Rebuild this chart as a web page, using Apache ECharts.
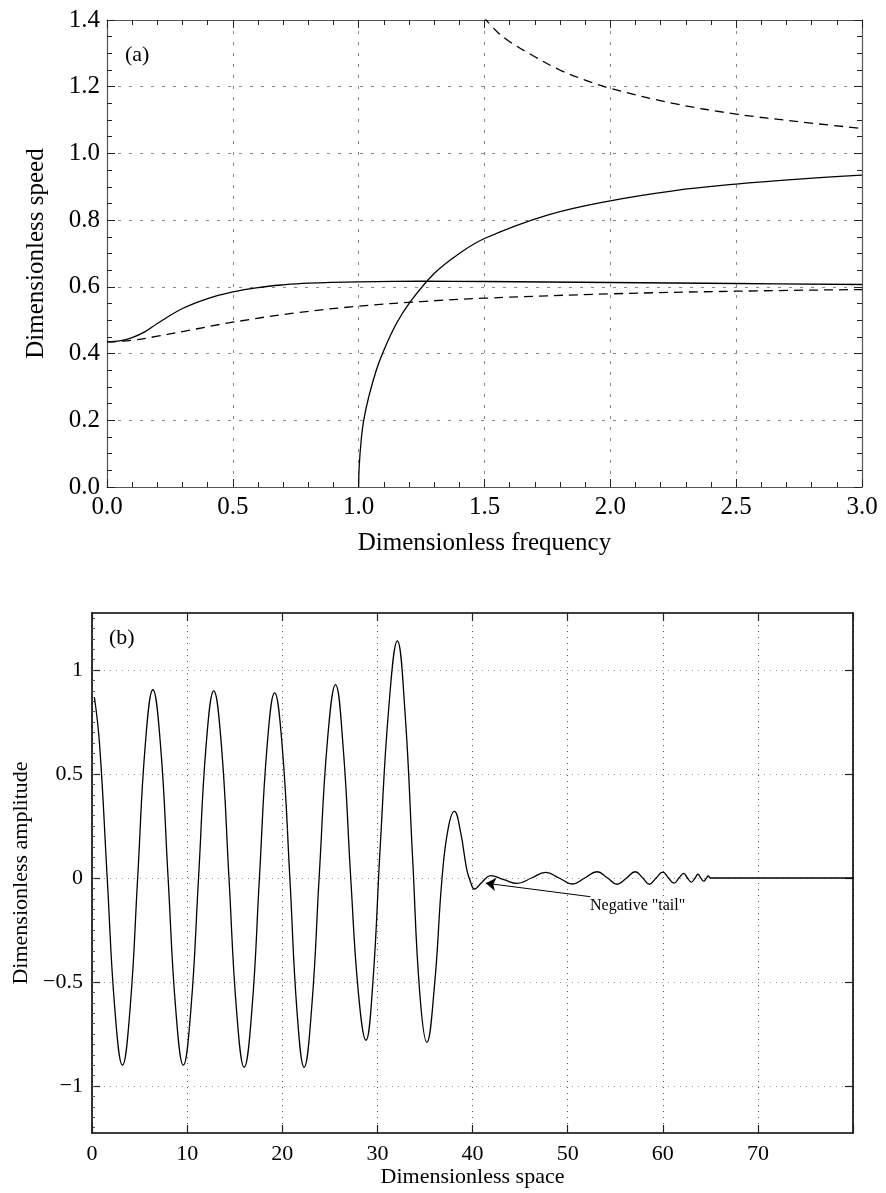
<!DOCTYPE html>
<html><head><meta charset="utf-8">
<script src="https://cdn.jsdelivr.net/npm/echarts@6/dist/echarts.min.js"></script>
<style>html,body{margin:0;padding:0;background:#fff}#c{width:886px;height:1193px}</style>
</head><body><div id="c"></div>
<script>
const FONT = '"Liberation Serif","Times New Roman","DejaVu Serif",serif';

// ---------- Panel (a) data ----------
const aSolidLowX  = [0, 0.05, 0.1, 0.15, 0.2, 0.3, 0.4, 0.5, 0.6, 0.7, 0.8, 1.0, 1.25, 1.5, 2.0, 2.5, 3.0];
const aSolidLowY  = [0.435, 0.438, 0.448, 0.465, 0.49, 0.535, 0.565, 0.585, 0.598, 0.606, 0.611, 0.615, 0.617, 0.616, 0.613, 0.610, 0.607];
const aDashLowX   = [0, 0.1, 0.2, 0.3, 0.5, 0.75, 1.0, 1.25, 1.5, 2.0, 2.5, 3.0];
const aDashLowY   = [0.435, 0.440, 0.452, 0.466, 0.494, 0.522, 0.542, 0.556, 0.566, 0.579, 0.587, 0.592];
const aSolidRiseX = [1.0, 1.002, 1.01, 1.02, 1.04, 1.07, 1.1, 1.15, 1.2, 1.3, 1.4, 1.5, 1.75, 2.0, 2.25, 2.5, 2.75, 3.0];
const aSolidRiseY = [0.0, 0.06, 0.14, 0.2, 0.27, 0.35, 0.41, 0.49, 0.55, 0.64, 0.70, 0.745, 0.815, 0.858, 0.888, 0.908, 0.923, 0.935];
const aDashHighX  = [1.495, 1.55, 1.6, 1.7, 1.8, 1.9, 2.0, 2.25, 2.5, 2.75, 3.0];
const aDashHighY  = [1.41, 1.365, 1.335, 1.29, 1.25, 1.22, 1.195, 1.15, 1.118, 1.095, 1.075];

// ---------- Panel (b) data ----------
const bX = [0.25, 0.8, 1.6, 2.4, 3.2, 4.0, 4.8, 5.6, 6.4, 7.2, 8.0, 8.8, 9.6, 10.4, 11.2, 12.0, 12.8, 13.6, 14.4,
  15.2, 16.0, 16.8, 17.6, 18.4, 19.2, 20.0, 20.8, 21.55, 22.3, 23.1, 23.9, 24.75, 25.6, 26.4, 27.2, 28.0, 28.8,
  29.5, 30.3, 31.2, 32.1, 32.9, 33.7, 34.45, 35.2, 36.0, 36.8, 37.45, 38.1, 38.75, 39.4, 39.8, 40.2, 41.0, 41.9,
  43.3, 44.7, 46.2, 47.7, 49.1, 50.5, 51.8, 53.1, 54.2, 55.2, 56.2, 57.1, 57.9, 58.6, 59.3, 60.0, 60.6, 61.2,
  61.7, 62.2, 62.6, 63.0, 63.4, 63.7, 64.0, 64.3, 64.6, 64.8, 65.0, 80];
const bY = [0.87, 0.64, 0.0, -0.63, -0.90, -0.63, 0.0, 0.64, 0.905, 0.64, 0.0, -0.63, -0.90, -0.63, 0.0, 0.64, 0.90, 0.64, 0.0,
  -0.64, -0.91, -0.64, 0.0, 0.63, 0.89, 0.63, 0.0, -0.64, -0.91, -0.62, 0.02, 0.66, 0.93, 0.63, 0.0, -0.55, -0.78,
  -0.52, 0.15, 0.82, 1.14, 0.80, 0.10, -0.55, -0.79, -0.52, 0.0, 0.24, 0.32, 0.22, 0.04, -0.02, -0.053, -0.02, 0.011,
  -0.008, -0.026, 0.0, 0.027, 0.0, -0.029, 0.0, 0.03, 0.0, -0.03, 0.0, 0.03, 0.0, -0.03, 0.0, 0.028, 0.0, -0.025,
  0.0, 0.022, 0.0, -0.02, 0.0, 0.018, 0.0, -0.015, 0.0, 0.01, 0.0, 0.0];

// tick labels
const aXTicks = [0, 0.5, 1.0, 1.5, 2.0, 2.5, 3.0];
const aYTicks = [0, 0.2, 0.4, 0.6, 0.8, 1.0, 1.2, 1.4];
const bXTicks = [0, 10, 20, 30, 40, 50, 60, 70];
const bYTicks = [-1, -0.5, 0, 0.5, 1];
const bYMinorTicks = [];
for (let k = -24; k <= 25; k++) bYMinorTicks.push(+(k * 0.05).toFixed(2));

const zip = (xs, ys) => xs.map((x, i) => [x, ys[i]]);

const axisText = { fontFamily: FONT, color: '#000' };
const tickA = { inside: true, length: 8, lineStyle: { color: '#222', width: 1 } };
const lineA = { show: true, onZero: false, lineStyle: { color: '#555', width: 1.2 } };
const lineB = { show: true, onZero: false, lineStyle: { color: '#000', width: 1.6 } };
const tickB = { inside: true, length: 8, lineStyle: { color: '#222', width: 1.2 } };
const minorA = n => ({ show: true, splitNumber: n, length: 5, lineStyle: { color: '#222', width: 1 } });

const option = {
  animation: false,
  backgroundColor: '#fff',
  grid: [
    { left: 107, top: 20, width: 755, height: 467 },
    { left: 92, top: 613, width: 761, height: 520 }
  ],
  xAxis: [
    { gridIndex: 0, type: 'value', min: 0, max: 3, interval: 0.5, position: 'bottom',
      axisLine: lineA, axisTick: tickA, minorTick: minorA(5),
      axisLabel: Object.assign({ fontSize: 25, margin: 8, formatter: v => v.toFixed(1) }, axisText),
      splitLine: { show: true, lineStyle: { type: [3, 8], color: '#888', width: 1 } },
      name: 'Dimensionless frequency', nameLocation: 'middle', nameGap: 44,
      nameTextStyle: Object.assign({ fontSize: 25 }, axisText) },
    { gridIndex: 0, type: 'value', min: 0, max: 3, interval: 0.5, position: 'top',
      axisLine: lineA, axisTick: tickA, minorTick: minorA(5),
      axisLabel: { show: false }, splitLine: { show: false } },
    { gridIndex: 1, type: 'value', min: 0, max: 80, interval: 10, position: 'bottom',
      axisLine: lineB, axisTick: tickB,
      axisLabel: Object.assign({ fontSize: 22, margin: 10, formatter: v => (bXTicks.indexOf(v) >= 0 ? String(v) : '') }, axisText),
      splitLine: { show: true, lineStyle: { type: [1, 5], color: '#555', width: 1 } },
      name: 'Dimensionless space', nameLocation: 'middle', nameGap: 28,
      nameTextStyle: Object.assign({ fontSize: 22 }, axisText) },
    { gridIndex: 1, type: 'value', min: 0, max: 80, interval: 10, position: 'top',
      axisLine: lineB, axisTick: tickB, axisLabel: { show: false }, splitLine: { show: false } }
  ],
  yAxis: [
    { gridIndex: 0, type: 'value', min: 0, max: 1.4, interval: 0.2, position: 'left',
      axisLine: lineA, axisTick: tickA, minorTick: minorA(4),
      axisLabel: Object.assign({ fontSize: 25, margin: 7, formatter: v => v.toFixed(1) }, axisText),
      splitLine: { show: true, lineStyle: { type: [3, 8], color: '#888', width: 1 } },
      name: 'Dimensionless speed', nameLocation: 'middle', nameGap: 58, nameRotate: 90,
      nameTextStyle: Object.assign({ fontSize: 25 }, axisText) },
    { gridIndex: 0, type: 'value', min: 0, max: 1.4, interval: 0.2, position: 'right',
      axisLine: lineA, axisTick: tickA, minorTick: minorA(4),
      axisLabel: { show: false }, splitLine: { show: false } },
    { gridIndex: 1, type: 'value', min: -1.226, max: 1.274, position: 'left',
      axisLine: lineB,
      axisTick: Object.assign({ customValues: bYTicks }, tickB),
      axisLabel: Object.assign({ fontSize: 22, margin: 9, customValues: bYTicks,
        formatter: v => (Math.abs(v) < 1e-9 ? '0' : String(v).replace('-', '\u2212')) }, axisText),
      splitLine: { show: true, lineStyle: { type: [1, 5], color: '#999', width: 1 } },
      name: 'Dimensionless amplitude', nameLocation: 'middle', nameGap: 60, nameRotate: 90,
      nameTextStyle: Object.assign({ fontSize: 22 }, axisText) },
    { gridIndex: 1, type: 'value', min: -1.226, max: 1.274, position: 'right',
      axisLine: lineB,
      axisTick: Object.assign({ customValues: bYTicks }, tickB),
      axisLabel: { show: false, customValues: bYTicks }, splitLine: { show: false } },
    { gridIndex: 1, type: 'value', min: -1.226, max: 1.274, position: 'left',
      axisLine: { show: false, onZero: false },
      axisTick: { show: true, inside: true, length: 3, customValues: bYMinorTicks, lineStyle: { color: '#555', width: 1 } },
      axisLabel: { show: false, customValues: bYMinorTicks }, splitLine: { show: false } }
  ],
  graphic: [
    { type: 'text', left: 125, top: 44, style: { text: '(a)', font: '22px ' + FONT, fill: '#000' } },
    { type: 'text', left: 109, top: 627, style: { text: '(b)', font: '22px ' + FONT, fill: '#000' } }
  ],
  series: [
    { type: 'line', xAxisIndex: 0, yAxisIndex: 0, data: zip(aSolidLowX, aSolidLowY), smooth: 0.4,
      symbol: 'none', lineStyle: { color: '#000', width: 1.3 } },
    { type: 'line', xAxisIndex: 0, yAxisIndex: 0, data: zip(aDashLowX, aDashLowY), smooth: 0.4,
      symbol: 'none', lineStyle: { color: '#000', width: 1.3, type: [9, 6] } },
    { type: 'line', xAxisIndex: 0, yAxisIndex: 0, data: zip(aSolidRiseX, aSolidRiseY), smooth: 0.4,
      symbol: 'none', lineStyle: { color: '#000', width: 1.3 } },
    { type: 'line', xAxisIndex: 0, yAxisIndex: 0, data: zip(aDashHighX, aDashHighY), smooth: 0.4, clip: true,
      symbol: 'none', lineStyle: { color: '#000', width: 1.3, type: [9, 6] } },
    { type: 'line', xAxisIndex: 2, yAxisIndex: 2, data: zip(bX, bY), smooth: 0.45,
      symbol: 'none', lineStyle: { color: '#000', width: 1.3 },
      markLine: { silent: true, symbol: ['none', 'arrow'], symbolSize: 10,
        lineStyle: { color: '#000', width: 1, type: 'solid' }, label: { show: false },
        data: [[{ coord: [52.4, -0.09] }, { coord: [41.4, -0.025] }]] },
      markPoint: { silent: true, symbol: 'circle', symbolSize: 1, itemStyle: { color: 'rgba(0,0,0,0)' },
        data: [{ coord: [52.3, -0.135], label: { show: true, position: 'right', distance: 0,
          formatter: 'Negative "tail"', fontFamily: FONT, fontSize: 16, color: '#000' } }] } }
  ]
};

const chart = echarts.init(document.getElementById('c'), null, { renderer: 'canvas' });
chart.setOption(option);
</script>
</body></html>
